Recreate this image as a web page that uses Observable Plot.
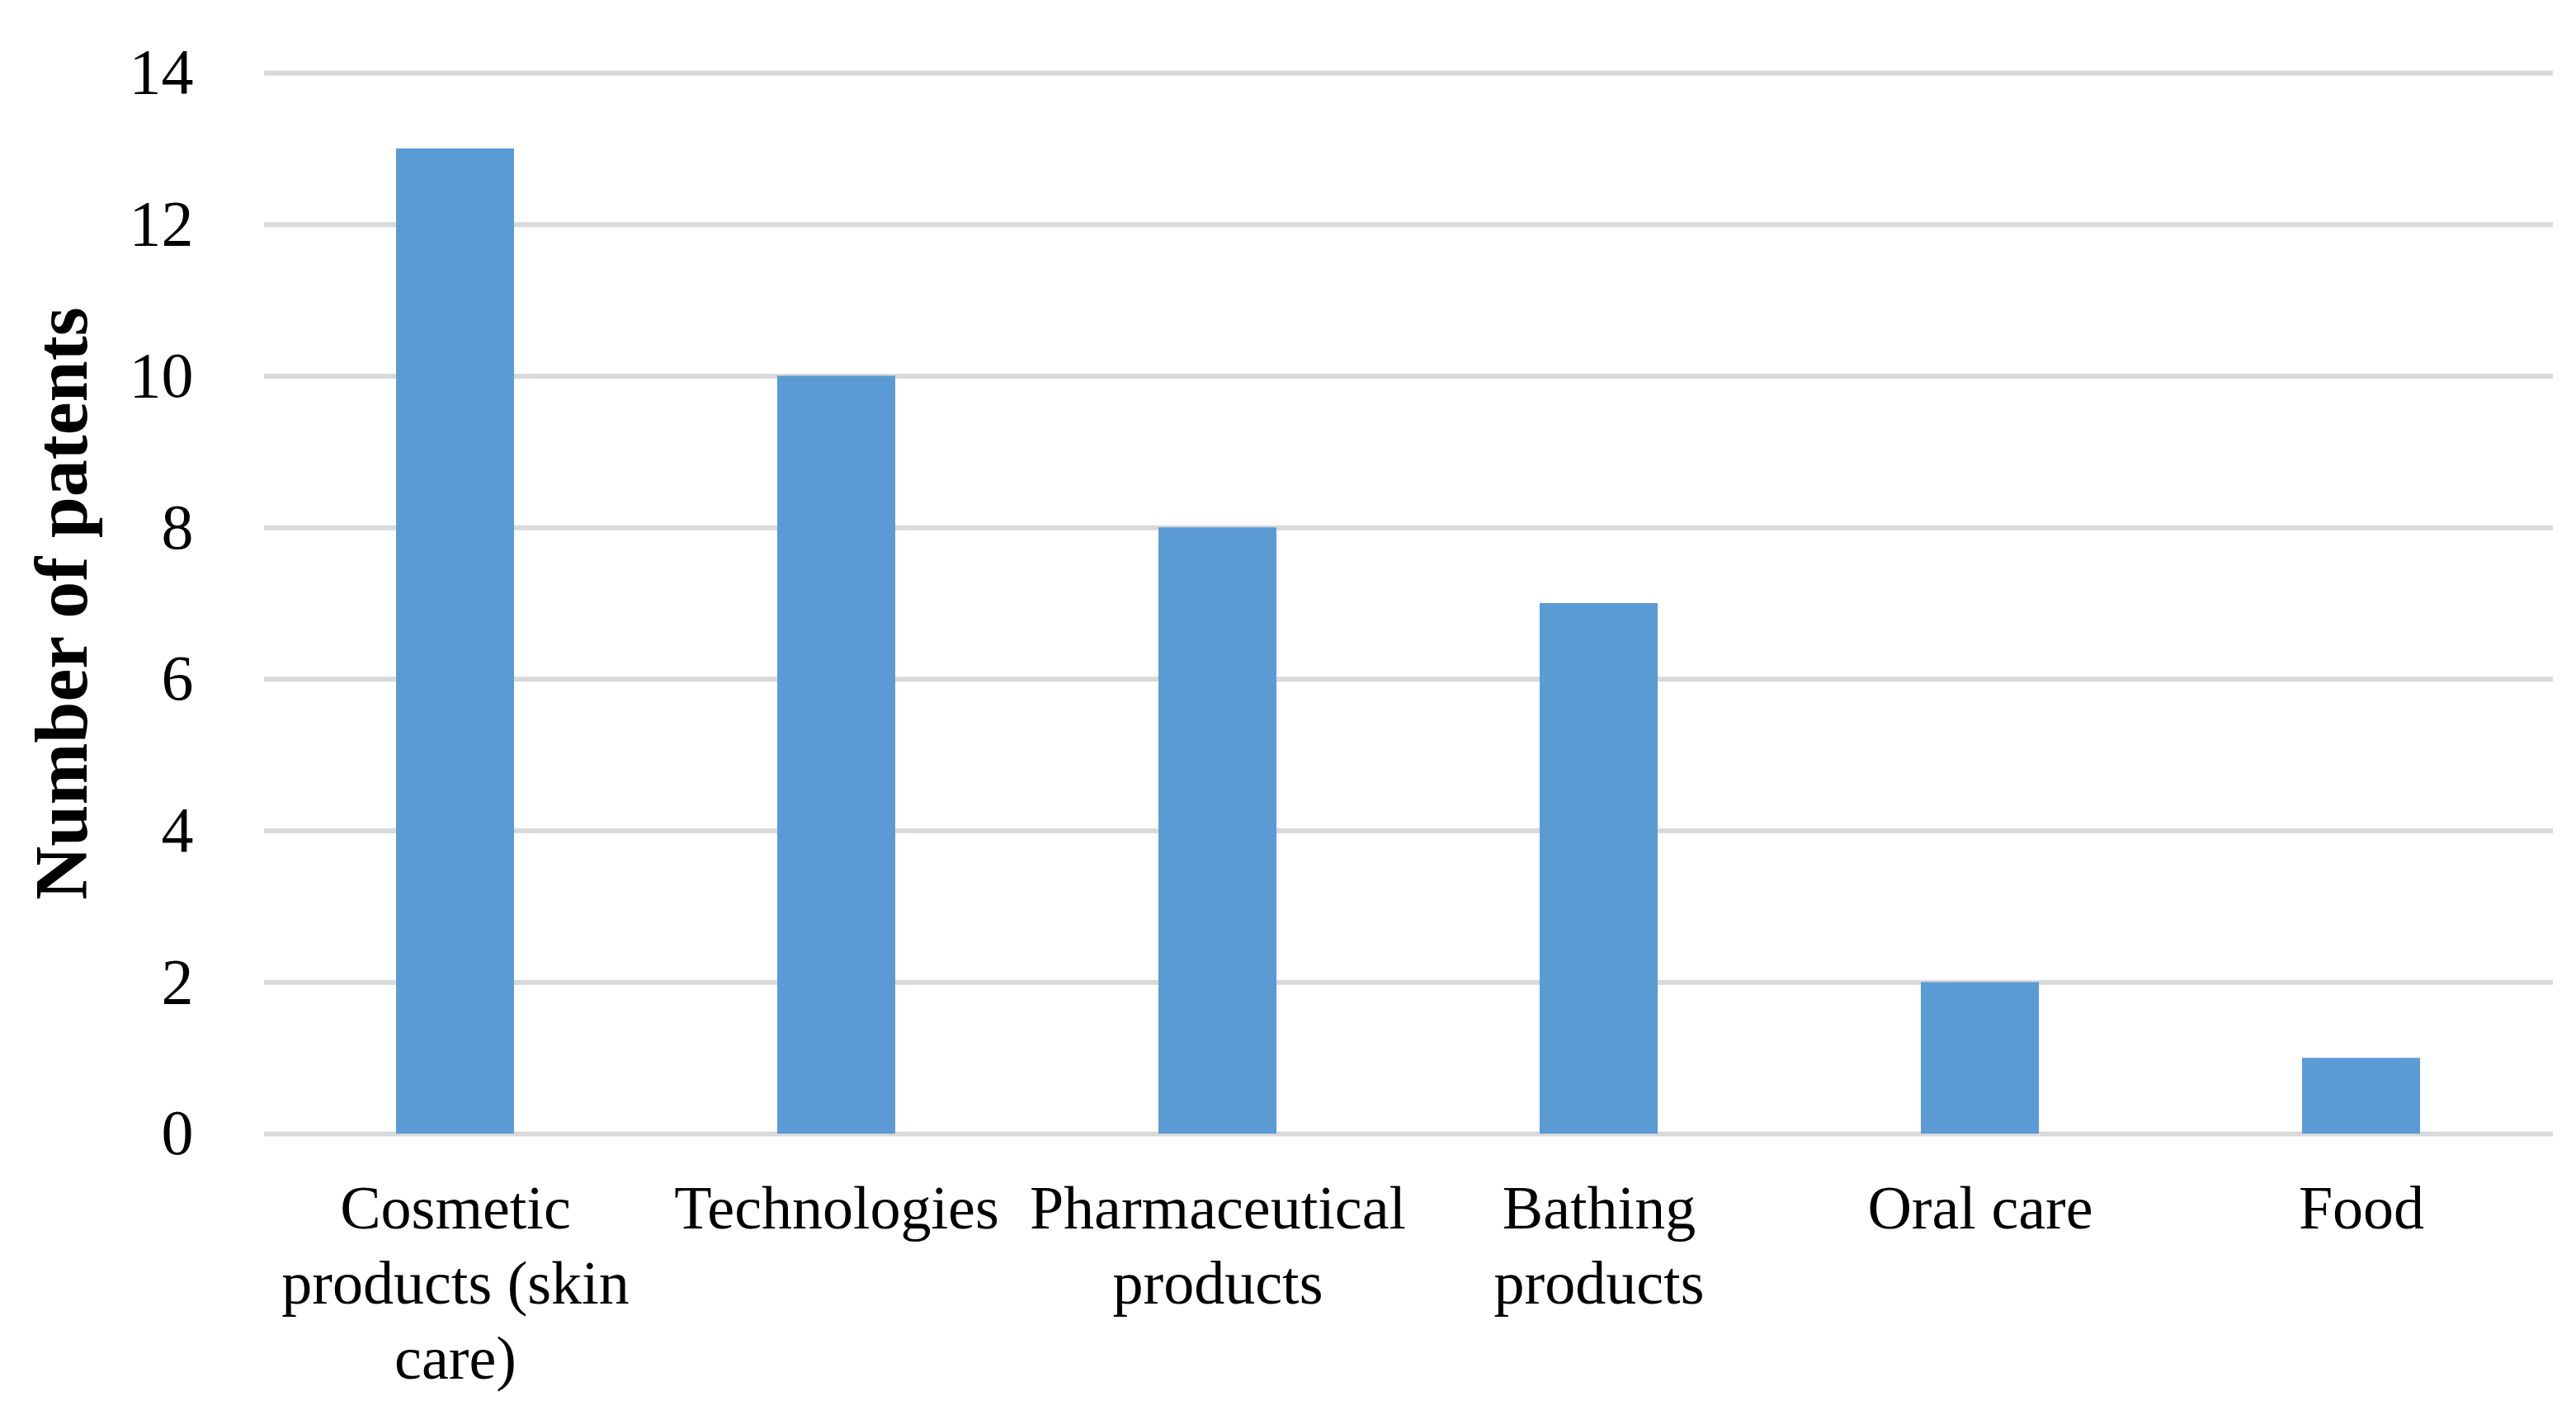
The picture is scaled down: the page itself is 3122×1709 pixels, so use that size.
<!DOCTYPE html>
<html>
<head>
<meta charset="utf-8">
<script src="https://cdn.jsdelivr.net/npm/d3@7"></script>
<script src="https://cdn.jsdelivr.net/npm/@observablehq/plot@0.6"></script>
<style>
  html, body { margin: 0; padding: 0; background: #fff; }
  #chart svg { display: block; }
</style>
</head>
<body>
<div id="chart"></div>
<script>
const categories = ["Cosmetic products (skin care)", "Technologies", "Pharmaceutical products", "Bathing products", "Oral care", "Food"];
const tickLabels = ["Cosmetic\nproducts (skin\ncare)", "Technologies", "Pharmaceutical\nproducts", "Bathing\nproducts", "Oral care", "Food"];
const patents = [13, 10, 8, 7, 2, 1];
const yTicks = [0, 2, 4, 6, 8, 10, 12, 14];
const yTitle = "Number of patents";

const data = categories.map((c, i) => ({category: c, value: patents[i]}));
const font = "'Palatino Linotype', 'Book Antiqua', Palatino, 'Liberation Serif', serif";

const chart = Plot.plot({
  width: 3122,
  height: 1709,
  marginLeft: 320,
  marginRight: 28,
  marginTop: 88,
  marginBottom: 335,
  style: {fontFamily: font, color: "#000", background: "#fff"},
  x: {domain: categories, paddingInner: 0.69, paddingOuter: 0.345},
  y: {domain: [0, 14]},
  marks: [
    Plot.ruleY(yTicks, {stroke: "#d9d9d9", strokeWidth: 6}),
    Plot.barY(data, {x: "category", y: "value", fill: "#5b9bd5"}),
    Plot.axisY({ticks: yTicks, tickSize: 0, tickPadding: 86, fontSize: 78, label: null}),
    Plot.axisX({tickSize: 0, tickPadding: 50, fontSize: 74, lineHeight: 1.23, label: null,
      tickFormat: d => tickLabels[categories.indexOf(d)]}),
    Plot.text([yTitle], {frameAnchor: "left", rotate: -90, dx: -244, fontSize: 90,
      fontWeight: "bold", fill: "#000", textAnchor: "middle", lineAnchor: "middle"})
  ]
});
document.getElementById("chart").appendChild(chart);
</script>
</body>
</html>
